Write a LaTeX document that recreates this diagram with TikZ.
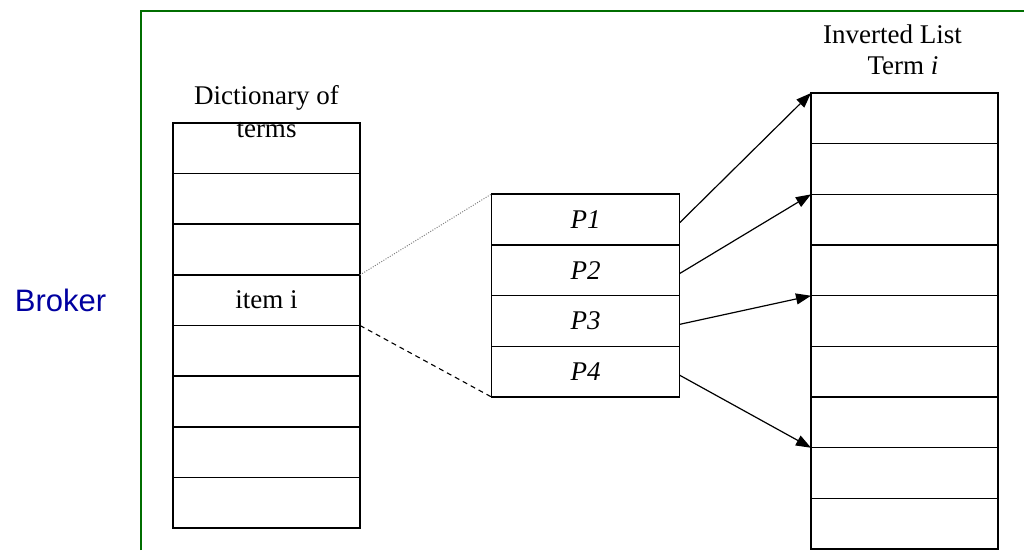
\documentclass[tikz,border=0pt]{standalone}
\usepackage{fontspec}
\setmainfont{Liberation Serif}
\newfontfamily\brokerfont{Liberation Sans}
\usetikzlibrary{arrows.meta}
\definecolor{framegreen}{RGB}{0,110,0}
\definecolor{brokerblue}{RGB}{0,0,160}
\tikzset{
  cell/.style={draw=black, line width=1.5pt, minimum width=187pt, minimum height=50.6pt, inner sep=0pt, outer sep=0pt, font=\fontsize{27}{32}\selectfont},
  pcell/.style={cell, minimum width=188pt, minimum height=50.75pt},
  lbl/.style={inner sep=0pt, anchor=base, font=\fontsize{27}{32}\selectfont},
  ptr/.style={line width=1.2pt, -{Triangle[length=15pt,width=11pt]}},
  zoomdot/.style={line width=1pt, dash pattern=on 1pt off 1.5pt, gray},
  zoomdash/.style={line width=1.1pt, dash pattern=on 5pt off 4pt},
}
\begin{document}
\begin{tikzpicture}[x=1pt,y=-1pt]
\useasboundingbox (0,0) rectangle (1024,550);
% frame
\draw[framegreen, line width=1.5pt] (141,550) -- (141,11) -- (1024,11);
% broker
\node[inner sep=0pt, anchor=base, text=brokerblue, font=\brokerfont\fontsize{31}{36}\selectfont] (broker) at (60.5,311) {Broker};
% dictionary
\foreach \i in {1,...,8} {
  \node[cell] (d\i) at (266.5,{123+50.625*(\i-0.5)}) {};
}
\node[lbl] at (d4.center) [yshift=-8pt] (itemi) {item i};
\node[lbl] (dict1) at (266.5,104) {Dictionary of};
\node[lbl] (dict2) at (266.5,137) {terms};
% postings
\foreach \i in {1,...,4} {
  \node[pcell] (p\i) at (585.5,{194+50.75*(\i-0.5)}) {\textit{P\i}};
}
% inverted list
\foreach \i in {1,...,9} {
  \node[cell] (v\i) at (904.5,{93+50.67*(\i-0.5)}) {};
}
\node[lbl] (inv1) at (892.5,43) {Inverted List};
\node[lbl] (inv2) at (903,74) {Term \textit{i}};
% zoom lines
\draw[zoomdot] (d4.north east) -- (p1.north west);
\draw[zoomdash] (d4.south east) -- (p4.south west);
% pointers
\draw[ptr] ([yshift=-3.5pt]p1.east) -- (v1.north west);
\draw[ptr] ([yshift=-3.5pt]p2.east) -- (v3.north west);
\draw[ptr] ([yshift=-3.5pt]p3.east) -- (v5.north west);
\draw[ptr] ([yshift=-3.5pt]p4.east) -- (v8.north west);
\end{tikzpicture}
\end{document}
